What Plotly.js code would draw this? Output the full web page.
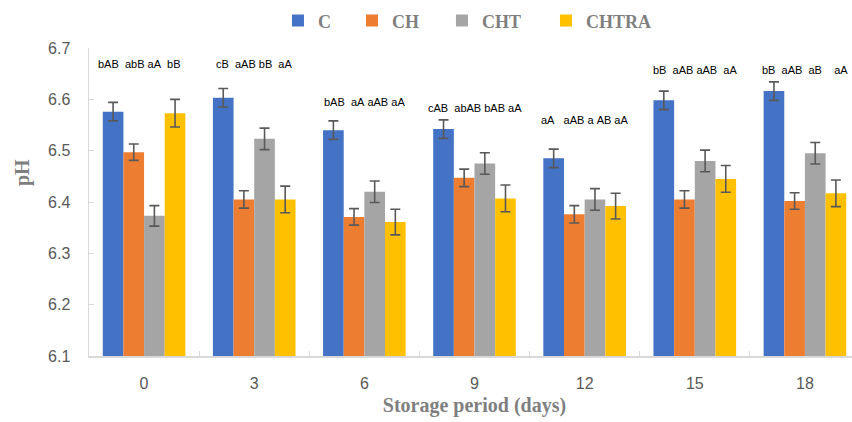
<!DOCTYPE html>
<html>
<head>
<meta charset="utf-8">
<script src="https://cdn.plot.ly/plotly-3.0.1.min.js"></script>
<style>
html,body{margin:0;padding:0;overflow:hidden;background:#fff;width:852px;height:422px;}
#chart{width:870px;height:422px;}
</style>
</head>
<body>
<div id="chart"></div>
<script>
// ---- data ----
const days = ['0', '3', '6', '9', '12', '15', '18'];
const seriesNames = ['C', 'CH', 'CHT', 'CHTRA'];
const C_pH      = [6.576, 6.603, 6.540, 6.542, 6.485, 6.598, 6.616];
const CH_pH     = [6.497, 6.405, 6.371, 6.447, 6.376, 6.405, 6.402];
const CHT_pH    = [6.373, 6.523, 6.420, 6.475, 6.405, 6.480, 6.495];
const CHTRA_pH  = [6.573, 6.405, 6.361, 6.407, 6.392, 6.445, 6.417];
const C_err     = [0.018, 0.018, 0.018, 0.018, 0.018, 0.018, 0.018];
const CH_err    = [0.016, 0.017, 0.016, 0.017, 0.017, 0.017, 0.016];
const CHT_err   = [0.020, 0.021, 0.021, 0.021, 0.021, 0.021, 0.021];
const CHTRA_err = [0.027, 0.026, 0.025, 0.026, 0.025, 0.026, 0.026];
const letterLabels = [
  'bAB  abB aA  bB',
  'cB  aAB bB  aA',
  'bAB  aA aAB aA',
  'cAB  abAB bAB aA',
  'aA   aAB a AB aA',
  'bB  aAB aAB  aA',
  'bB  aAB  aB    aA'
];

// ---- styles ----
const colors = ['#4472C4', '#ED7D31', '#A5A5A5', '#FFC000'];
const values = [C_pH, CH_pH, CHT_pH, CHTRA_pH];
const errs = [C_err, CH_err, CHT_err, CHTRA_err];
const labelHeights = [6.669, 6.669, 6.595, 6.583, 6.560, 6.657, 6.657];
const labelShift = [-5, 0, 0, 0, 0, 0, 0];
const legendIds = ['legend', 'legend2', 'legend3', 'legend4'];
const legendX = [0.2451, 0.3411, 0.4578, 0.5927];

const traces = seriesNames.map((n, i) => ({
  type: 'bar',
  name: n,
  legend: legendIds[i],
  x: days,
  y: values[i],
  marker: {color: colors[i]},
  error_y: {type: 'data', array: errs[i], visible: true, color: '#595959', thickness: 1.6, width: 5},
  hoverinfo: 'x+y'
}));

const annotations = letterLabels.map((t, i) => ({
  x: i, y: labelHeights[i], xref: 'x', yref: 'y', xshift: labelShift[i],
  text: t.replace(/ /g, '\u00a0'),
  showarrow: false,
  font: {family: 'Liberation Sans, Arial, sans-serif', size: 11, color: '#000000'},
  xanchor: 'center', yanchor: 'middle'
}));
annotations.push({
  xref: 'paper', yref: 'paper', x: -0.087, y: 0.597,
  text: 'pH', textangle: -90, showarrow: false,
  font: {family: 'Liberation Serif, Times New Roman, serif', size: 20, color: '#7F7F7F', weight: 'bold'},
  xanchor: 'center', yanchor: 'middle'
});

const legendFont = {family: 'Liberation Serif, Times New Roman, serif', size: 18, color: '#7F7F7F', weight: 'bold'};

const layout = {
  width: 870, height: 422,
  margin: {l: 89, r: 10, t: 48, b: 66, autoexpand: false},
  paper_bgcolor: '#ffffff', plot_bgcolor: '#ffffff',
  barmode: 'group', bargap: 0.25, bargroupgap: 0,
  showlegend: true,
  xaxis: {
    type: 'category', range: [-0.5, 6.5], autorange: false,
    showline: true, linecolor: '#D9D9D9', linewidth: 2,
    ticks: 'inside', tickson: 'boundaries', ticklen: 5, tickcolor: '#D9D9D9',
    tickfont: {family: 'Liberation Sans, Arial, sans-serif', size: 16, color: '#595959'},
    ticklabelstandoff: 12,
    showgrid: false, zeroline: false, automargin: false,
    title: {text: 'Storage period (days)', standoff: 7,
      font: {family: 'Liberation Serif, Times New Roman, serif', size: 20, color: '#7F7F7F', weight: 'bold'}}
  },
  yaxis: {
    range: [6.1, 6.7], autorange: false, dtick: 0.1, tick0: 6.1,
    tickformat: '.1f',
    showline: true, linecolor: '#D9D9D9', linewidth: 1.5,
    ticks: 'inside', ticklen: 5, tickcolor: '#D9D9D9',
    tickfont: {family: 'Liberation Sans, Arial, sans-serif', size: 16, color: '#595959'},
    ticklabelstandoff: 14,
    showgrid: false, zeroline: false, automargin: false
  },
  annotations: annotations
};
legendIds.forEach((id, i) => {
  layout[id] = {
    orientation: 'h', x: legendX[i], xanchor: 'left', y: 1.088, yanchor: 'middle',
    font: legendFont, bgcolor: 'rgba(0,0,0,0)'
  };
});

Plotly.newPlot('chart', traces, layout, {displayModeBar: false, staticPlot: true});
</script>
</body>
</html>
